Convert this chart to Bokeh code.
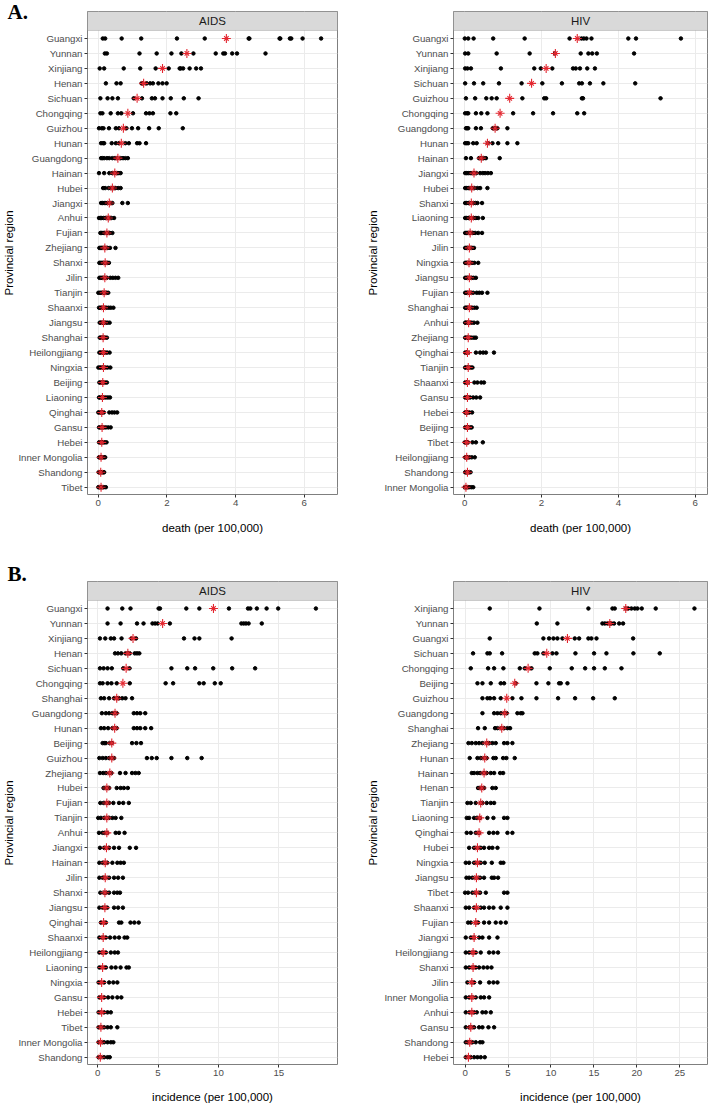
from bokeh.plotting import figure
from bokeh.models import ColumnDataSource, FixedTicker, BoxAnnotation, Label, Range1d, Title
from bokeh.layouts import column, row
from bokeh.embed import file_html
from bokeh.resources import INLINE

# ---------------- DATA ----------------
# Panel A, AIDS deaths (per 100,000)
aids_death_regions = ["Guangxi", "Yunnan", "Xinjiang", "Henan", "Sichuan", "Chongqing", "Guizhou", "Hunan",
                      "Guangdong", "Hainan", "Hubei", "Jiangxi", "Anhui", "Fujian", "Zhejiang", "Shanxi", "Jilin",
                      "Tianjin", "Shaanxi", "Jiangsu", "Shanghai", "Heilongjiang", "Ningxia", "Beijing", "Liaoning",
                      "Qinghai", "Gansu", "Hebei", "Inner Mongolia", "Shandong", "Tibet"]
aids_death_values = [
    [0.13, 0.20, 0.68, 1.25, 2.29, 3.10, 4.38, 4.40, 5.28, 5.30, 5.58, 5.62, 5.95, 6.49],
    [0.19, 0.25, 1.20, 1.70, 2.13, 2.42, 2.77, 3.42, 3.64, 3.69, 3.90, 4.04, 4.87],
    [0.04, 0.17, 0.74, 1.22, 1.67, 2.05, 2.37, 2.40, 2.47, 2.66, 2.85, 2.99],
    [0.22, 0.53, 0.65, 1.26, 1.30, 1.41, 1.51, 1.59, 1.75, 1.87, 1.99],
    [0.06, 0.27, 0.41, 0.57, 1.03, 1.27, 1.56, 1.65, 1.87, 2.11, 2.49, 2.92],
    [0.06, 0.12, 0.36, 0.57, 0.67, 1.01, 1.39, 1.49, 1.59, 2.10, 2.27],
    [0.02, 0.10, 0.15, 0.31, 0.51, 0.60, 0.82, 0.98, 1.16, 1.48, 1.76, 2.46],
    [0.08, 0.14, 0.17, 0.39, 0.51, 0.60, 0.79, 0.89, 1.13, 1.20, 1.39],
    [0.08, 0.12, 0.17, 0.25, 0.32, 0.41, 0.48, 0.55, 0.65, 0.72, 0.79, 0.86],
    [0.02, 0.17, 0.32, 0.41, 0.48, 0.55, 0.60, 0.65],
    [0.14, 0.20, 0.30, 0.38, 0.45, 0.50, 0.58, 0.65],
    [0.08, 0.12, 0.17, 0.22, 0.27, 0.35, 0.41, 0.70, 0.86],
    [0.02, 0.06, 0.10, 0.15, 0.20, 0.26, 0.32, 0.38, 0.46],
    [0.06, 0.10, 0.14, 0.19, 0.24, 0.28, 0.33, 0.41],
    [0.03, 0.07, 0.10, 0.14, 0.18, 0.22, 0.27, 0.34, 0.50],
    [0.03, 0.06, 0.10, 0.14, 0.18, 0.22, 0.26, 0.31],
    [0.03, 0.07, 0.11, 0.15, 0.19, 0.25, 0.35, 0.42, 0.50, 0.58],
    [0.00, 0.04, 0.08, 0.12, 0.16, 0.20, 0.24, 0.29],
    [0.02, 0.06, 0.10, 0.14, 0.18, 0.24, 0.30, 0.36, 0.44],
    [0.04, 0.07, 0.10, 0.14, 0.18, 0.22, 0.27, 0.33],
    [0.04, 0.07, 0.10, 0.13, 0.16, 0.20, 0.25],
    [0.03, 0.06, 0.09, 0.13, 0.17, 0.21, 0.26, 0.33],
    [0.00, 0.04, 0.08, 0.12, 0.16, 0.21, 0.27, 0.35],
    [0.03, 0.06, 0.09, 0.12, 0.16, 0.20, 0.25],
    [0.02, 0.05, 0.08, 0.12, 0.16, 0.22, 0.28, 0.34],
    [0.00, 0.03, 0.06, 0.09, 0.12, 0.16, 0.32, 0.40, 0.47, 0.55],
    [0.02, 0.05, 0.08, 0.12, 0.16, 0.22, 0.29, 0.36],
    [0.02, 0.05, 0.08, 0.11, 0.15, 0.19, 0.24],
    [0.02, 0.04, 0.07, 0.10, 0.13, 0.17, 0.20],
    [0.01, 0.04, 0.06, 0.09, 0.12, 0.15, 0.17],
    [0.00, 0.03, 0.06, 0.09, 0.12, 0.16, 0.22],
]
aids_death_means = [3.73, 2.58, 1.87, 1.32, 1.13, 0.86, 0.73, 0.67, 0.57, 0.48, 0.41, 0.32, 0.29, 0.25, 0.19,
                    0.20, 0.19, 0.17, 0.15, 0.15, 0.14, 0.15, 0.15, 0.13, 0.12, 0.10, 0.11, 0.10, 0.08, 0.07, 0.08]

# Panel A, HIV deaths (per 100,000)
hiv_death_regions = ["Guangxi", "Yunnan", "Xinjiang", "Sichuan", "Guizhou", "Chongqing", "Guangdong", "Hunan",
                     "Hainan", "Jiangxi", "Hubei", "Shanxi", "Liaoning", "Henan", "Jilin", "Ningxia", "Jiangsu",
                     "Fujian", "Shanghai", "Anhui", "Zhejiang", "Qinghai", "Tianjin", "Shaanxi", "Gansu", "Hebei",
                     "Beijing", "Tibet", "Heilongjiang", "Shandong", "Inner Mongolia"]
hiv_death_values = [
    [0.00, 0.09, 0.23, 0.74, 1.56, 2.73, 3.04, 3.10, 3.17, 3.30, 4.26, 4.46, 5.63],
    [0.01, 0.09, 0.83, 1.69, 2.35, 3.02, 3.22, 3.32, 3.44, 4.41],
    [0.01, 0.07, 0.16, 0.94, 1.81, 1.98, 2.28, 2.82, 2.89, 3.00, 3.19, 3.39],
    [0.01, 0.24, 0.48, 0.89, 1.48, 2.02, 2.53, 2.98, 3.05, 3.26, 3.61, 4.44],
    [0.03, 0.27, 0.56, 0.70, 0.83, 1.50, 2.07, 2.12, 3.05, 3.08, 5.10],
    [0.01, 0.06, 0.09, 0.29, 0.43, 0.59, 1.26, 1.78, 2.30, 2.93, 3.11],
    [0.03, 0.06, 0.09, 0.29, 0.42, 0.73, 0.76, 0.82, 0.85, 1.11],
    [0.01, 0.05, 0.09, 0.22, 0.31, 0.60, 0.72, 0.87, 1.11, 1.37],
    [0.03, 0.16, 0.37, 0.42, 0.46, 0.49, 0.55, 0.91],
    [0.01, 0.05, 0.09, 0.14, 0.19, 0.24, 0.30, 0.40, 0.47, 0.53, 0.60, 0.68],
    [0.01, 0.05, 0.09, 0.14, 0.19, 0.25, 0.33, 0.40, 0.59],
    [0.01, 0.05, 0.09, 0.13, 0.17, 0.22, 0.28, 0.33, 0.45],
    [0.01, 0.05, 0.09, 0.13, 0.18, 0.23, 0.29, 0.35, 0.47],
    [0.01, 0.04, 0.08, 0.12, 0.16, 0.21, 0.27, 0.35, 0.45],
    [0.01, 0.04, 0.08, 0.11, 0.15, 0.19, 0.24],
    [0.01, 0.04, 0.07, 0.10, 0.14, 0.19, 0.25, 0.35],
    [0.01, 0.04, 0.07, 0.10, 0.14, 0.18, 0.23, 0.29],
    [0.01, 0.04, 0.07, 0.11, 0.15, 0.22, 0.31, 0.38, 0.45, 0.59],
    [0.01, 0.04, 0.07, 0.10, 0.14, 0.19, 0.25, 0.31],
    [0.01, 0.03, 0.06, 0.09, 0.13, 0.18, 0.24, 0.33],
    [0.01, 0.03, 0.06, 0.09, 0.13, 0.18, 0.24, 0.29],
    [0.01, 0.03, 0.05, 0.08, 0.29, 0.40, 0.48, 0.55, 0.76],
    [0.01, 0.03, 0.06, 0.09, 0.12, 0.16, 0.20],
    [0.01, 0.03, 0.05, 0.08, 0.25, 0.33, 0.43, 0.50],
    [0.01, 0.03, 0.05, 0.09, 0.14, 0.22, 0.30, 0.40],
    [0.01, 0.03, 0.05, 0.08, 0.12, 0.19],
    [0.01, 0.03, 0.05, 0.08, 0.11, 0.15, 0.18],
    [0.00, 0.02, 0.05, 0.08, 0.20, 0.29, 0.47],
    [0.01, 0.03, 0.05, 0.08, 0.12, 0.18, 0.26],
    [0.01, 0.03, 0.05, 0.08, 0.11, 0.15],
    [0.00, 0.02, 0.04, 0.07, 0.11, 0.17, 0.22],
]
hiv_death_means = [2.93, 2.36, 2.12, 1.74, 1.17, 0.92, 0.79, 0.59, 0.43, 0.24, 0.18, 0.17, 0.17, 0.14, 0.12,
                   0.11, 0.12, 0.12, 0.12, 0.10, 0.09, 0.07, 0.09, 0.07, 0.07, 0.05, 0.07, 0.05, 0.05, 0.07, 0.03]

# Panel B, AIDS incidence (per 100,000)
aids_inc_regions = ["Guangxi", "Yunnan", "Xinjiang", "Henan", "Sichuan", "Chongqing", "Shanghai", "Guangdong",
                    "Hunan", "Beijing", "Guizhou", "Zhejiang", "Hubei", "Fujian", "Tianjin", "Anhui", "Jiangxi",
                    "Hainan", "Jilin", "Shanxi", "Jiangsu", "Qinghai", "Shaanxi", "Heilongjiang", "Liaoning",
                    "Ningxia", "Gansu", "Hebei", "Tibet", "Inner Mongolia", "Shandong"]
aids_inc_values = [
    [0.82, 2.04, 2.72, 5.05, 5.16, 7.34, 8.42, 10.87, 12.45, 12.64, 13.18, 13.99, 14.95, 18.07],
    [0.82, 1.90, 3.26, 3.80, 4.54, 4.76, 4.97, 5.98, 11.90, 12.09, 12.28, 12.50, 13.59],
    [0.19, 0.63, 1.09, 1.36, 1.98, 2.80, 3.18, 7.15, 8.02, 8.42, 11.09],
    [1.44, 1.68, 1.96, 2.31, 2.50, 2.66, 3.07, 3.26, 3.45],
    [0.19, 0.49, 0.82, 1.17, 2.12, 2.64, 6.11, 7.42, 8.07, 9.57, 11.14, 13.04],
    [0.19, 0.41, 0.82, 1.14, 1.58, 2.66, 5.63, 6.25, 8.42, 8.78, 9.70, 10.19],
    [0.27, 0.54, 0.95, 1.36, 1.60, 1.77, 2.04, 2.31, 2.85],
    [0.35, 0.68, 0.95, 1.22, 1.40, 1.58, 2.99, 3.26, 3.53, 3.94],
    [0.27, 0.54, 0.87, 1.22, 1.40, 1.58, 2.99, 3.26, 3.53, 3.94, 4.43],
    [0.41, 0.55, 0.68, 1.00, 1.17, 2.85, 3.21, 3.59],
    [0.14, 0.41, 0.68, 0.95, 1.20, 1.36, 4.08, 4.48, 4.89, 6.11, 7.42, 8.61],
    [0.19, 0.46, 0.68, 1.00, 1.14, 1.85, 2.31, 2.85, 3.13, 3.40],
    [0.49, 0.68, 0.80, 0.95, 1.58, 1.90, 2.17, 2.50],
    [0.22, 0.49, 0.75, 0.95, 1.30, 1.77, 2.12, 2.58],
    [0.05, 0.27, 0.54, 0.75, 0.95, 1.22, 1.49, 1.96],
    [0.11, 0.41, 0.60, 0.80, 1.49, 1.77, 2.23],
    [0.19, 0.54, 0.70, 0.95, 1.36, 1.77, 2.66, 3.18],
    [0.14, 0.41, 0.60, 0.80, 1.22, 1.63, 1.90, 2.17],
    [0.14, 0.41, 0.60, 0.95, 1.36, 1.70, 2.09],
    [0.22, 0.54, 0.70, 0.95, 1.36, 1.63, 1.85],
    [0.14, 0.41, 0.60, 0.80, 1.36, 1.70, 2.09],
    [0.27, 0.50, 0.68, 1.77, 1.96, 2.72, 3.04, 3.40],
    [0.14, 0.45, 0.68, 1.03, 1.41, 1.77, 2.23, 2.45],
    [0.14, 0.40, 0.68, 1.09, 1.41, 1.68],
    [0.14, 0.40, 0.68, 1.14, 1.49, 1.90, 2.39, 2.58],
    [0.08, 0.30, 0.54, 0.95, 1.30, 1.63],
    [0.14, 0.30, 0.54, 0.87, 1.22, 1.63, 1.96],
    [0.08, 0.30, 0.54, 0.82, 1.09],
    [0.08, 0.27, 0.54, 0.82, 1.09, 1.63],
    [0.08, 0.25, 0.54, 0.82, 1.09, 1.30],
    [0.08, 0.25, 0.54, 0.82, 1.00],
]
aids_inc_means = [9.59, 5.38, 2.93, 2.50, 2.36, 2.09, 1.58, 1.44, 1.41, 1.17, 1.17, 1.01, 0.76, 0.76, 0.76, 0.76,
                  0.73, 0.63, 0.63, 0.60, 0.60, 0.49, 0.46, 0.46, 0.41, 0.33, 0.33, 0.33, 0.27, 0.24, 0.22]

# Panel B, HIV incidence (per 100,000)
hiv_inc_regions = ["Xinjiang", "Yunnan", "Guangxi", "Sichuan", "Chongqing", "Beijing", "Guizhou", "Guangdong",
                   "Shanghai", "Zhejiang", "Hunan", "Hainan", "Henan", "Tianjin", "Liaoning", "Qinghai", "Hubei",
                   "Ningxia", "Jiangsu", "Tibet", "Shaanxi", "Fujian", "Jiangxi", "Heilongjiang", "Shanxi", "Jilin",
                   "Inner Mongolia", "Anhui", "Gansu", "Shandong", "Hebei"]
hiv_inc_values = [
    [2.87, 8.66, 14.36, 17.16, 17.43, 18.70, 19.00, 19.37, 19.76, 20.07, 20.57, 22.20, 26.71],
    [8.35, 10.75, 15.99, 16.27, 16.58, 16.85, 17.04, 17.35, 17.94, 18.40],
    [2.87, 9.12, 9.78, 10.29, 10.75, 11.34, 12.77, 13.28, 14.36, 14.71, 15.30, 19.57],
    [0.93, 2.60, 2.87, 4.31, 8.11, 8.42, 9.12, 10.17, 10.64, 12.85, 15.02, 16.46, 19.60, 22.67],
    [0.66, 2.68, 3.38, 4.46, 6.37, 6.95, 7.73, 9.86, 12.42, 13.98, 15.02, 16.27, 18.21],
    [1.44, 2.02, 2.99, 4.15, 4.54, 5.90, 8.31, 9.70, 10.95, 11.14, 11.92],
    [2.02, 2.60, 2.91, 3.38, 4.15, 5.51, 6.56, 8.31, 10.83, 12.81, 14.91, 17.43],
    [2.02, 3.38, 3.77, 4.15, 4.60, 4.85, 6.09, 6.48, 6.68],
    [1.51, 2.29, 3.49, 3.77, 4.20, 4.54, 4.93, 5.24],
    [0.39, 0.78, 1.24, 1.63, 2.02, 2.52, 2.80, 3.18, 3.57, 4.54, 4.93, 5.51],
    [0.54, 1.44, 1.82, 2.21, 2.52, 3.30, 3.57, 4.43, 4.81, 5.78],
    [0.78, 1.05, 1.44, 1.75, 2.21, 2.52, 2.99, 3.38, 4.08, 4.43],
    [1.51, 1.82, 1.94, 2.21, 3.18, 3.57],
    [0.27, 0.66, 1.24, 1.82, 2.02, 2.52, 2.99, 3.38],
    [0.19, 0.47, 1.05, 1.36, 1.71, 2.60, 3.30, 4.54, 4.93],
    [0.19, 0.66, 1.24, 1.63, 2.80, 3.30, 3.77, 4.93, 5.51],
    [0.47, 1.05, 1.44, 1.82, 2.21, 2.80, 3.18, 3.77],
    [0.08, 0.47, 1.05, 1.44, 1.82, 2.29, 3.11, 4.15, 4.46],
    [0.16, 0.47, 0.85, 1.32, 1.75, 2.21, 3.11, 3.38, 3.84],
    [0.00, 0.35, 0.85, 1.28, 1.75, 2.41, 4.54, 4.93],
    [0.08, 0.47, 1.05, 1.32, 1.82, 2.21, 2.80, 3.30, 4.15, 4.93],
    [0.35, 0.66, 1.24, 1.51, 2.21, 2.80, 3.57, 4.15, 4.74],
    [0.08, 0.66, 1.05, 1.63, 2.02, 2.80, 3.77],
    [0.08, 0.47, 0.93, 1.24, 1.82, 2.80, 3.30, 3.84],
    [0.08, 0.47, 0.93, 1.24, 1.63, 2.14, 2.60, 3.07],
    [0.27, 0.78, 1.05, 1.75, 2.80, 3.30, 3.77],
    [0.08, 0.47, 0.78, 1.24, 1.82, 2.21, 2.80],
    [0.08, 0.50, 0.78, 1.05, 1.36, 2.02, 2.41, 2.99],
    [0.08, 0.50, 0.66, 1.05, 1.63, 2.02, 2.72, 3.38],
    [0.08, 0.35, 0.54, 0.85, 1.24, 1.75, 2.02],
    [0.08, 0.39, 0.66, 1.05, 1.44, 1.82, 2.29],
]
hiv_inc_means = [18.71, 16.85, 11.92, 9.51, 7.34, 5.78, 4.85, 4.62, 4.27, 2.52, 2.29, 2.21, 1.94, 1.82, 1.71, 1.63,
                 1.44, 1.44, 1.32, 1.32, 1.32, 1.24, 1.05, 0.93, 0.93, 0.78, 0.78, 0.78, 0.66, 0.54, 0.39]

death_ticks = [0, 2, 4, 6]
aids_inc_ticks = [0, 5, 10, 15]
hiv_inc_ticks = [0, 5, 10, 15, 20, 25]

# ---------------- STYLE ----------------
FONT = "Liberation Sans"
GRID = "#ebebeb"
BORDER = "#7f7f7f"
RED = "#e3262f"
Y_RANGE = (-0.487, 31.805)
STRIP_BOTTOM = 30.535


def make_panel(names, values, means, ticks, xr, strip, xlabel, width, height,
               mb_left, mb_right, mb_top, mb_bottom, ylab_standoff, xlab_standoff,
               tag=None, tag_standoff=0):
    n = len(names)
    pos = [n - 1 - i for i in range(n)]
    xs, ys = [], []
    for i, vals in enumerate(values):
        xs.extend(vals)
        ys.extend([pos[i]] * len(vals))
    src = ColumnDataSource(dict(x=xs, y=ys))
    msrc = ColumnDataSource(dict(x=means, y=pos))

    p = figure(width=width, height=height, output_backend="svg", toolbar_location=None, title=None,
               x_range=Range1d(*xr), y_range=Range1d(*Y_RANGE),
               min_border_left=mb_left, min_border_right=mb_right,
               min_border_top=mb_top, min_border_bottom=mb_bottom)
    p.background_fill_color = "white"
    p.border_fill_color = "white"
    p.outline_line_color = BORDER
    p.outline_line_width = 1

    xt = FixedTicker(ticks=ticks)
    yt = FixedTicker(ticks=pos)
    p.xaxis.ticker = xt
    p.yaxis.ticker = yt
    p.xgrid.ticker = xt
    p.ygrid.ticker = yt
    p.yaxis.major_label_overrides = {pos[i]: names[i] for i in range(n)}
    p.xgrid.grid_line_color = GRID
    p.ygrid.grid_line_color = GRID

    for ax in (p.xaxis[0], p.yaxis[0]):
        ax.axis_line_color = None
        ax.major_tick_line_color = "#333333"
        ax.major_tick_out = 3
        ax.major_tick_in = 0
        ax.minor_tick_line_color = None
        ax.major_label_text_font = FONT
        ax.major_label_text_font_size = "9.7px"
        ax.major_label_text_color = "#4d4d4d"
        ax.major_label_standoff = 2
        ax.axis_label_text_font = FONT
        ax.axis_label_text_font_size = "11.5px"
        ax.axis_label_text_font_style = "normal"
        ax.axis_label_text_color = "black"
    p.xaxis.axis_label = xlabel
    p.xaxis.axis_label_standoff = xlab_standoff
    p.yaxis.axis_label = "Provincial region"
    p.yaxis.axis_label_standoff = ylab_standoff

    p.scatter("x", "y", source=src, size=3.5, color="black")
    p.scatter("x", "y", source=msrc, marker="cross", size=9, line_color=RED, line_width=1.1)
    p.scatter("x", "y", source=msrc, marker="x", size=6.4, line_color=RED, line_width=1.1)

    p.add_layout(BoxAnnotation(bottom=STRIP_BOTTOM, fill_color="#d9d9d9", fill_alpha=1.0,
                               line_color=BORDER, line_width=1))
    p.add_layout(Label(x=(xr[0] + xr[1]) / 2, y=(STRIP_BOTTOM + Y_RANGE[1]) / 2, text=strip,
                       text_align="center", text_baseline="middle", text_font=FONT,
                       text_font_size="11.5px", text_color="#1a1a1a"))
    if tag:
        p.add_layout(Title(text=tag, align="left", offset=-(mb_left - 3), standoff=tag_standoff,
                           text_font="Liberation Serif", text_font_style="bold",
                           text_font_size="21px", text_color="black"), "above")
    return p


a1 = make_panel(aids_death_regions, aids_death_values, aids_death_means, death_ticks, (-0.315, 6.967),
                "AIDS", "death (per 100,000)", 362, 563, 83, 25, 11, 69, 0, 13, tag="A.", tag_standoff=-24)
a2 = make_panel(hiv_death_regions, hiv_death_values, hiv_death_means, death_ticks, (-0.294, 6.323),
                "HIV", "death (per 100,000)", 346, 563, 91, 1, 11, 69, 2, 13)
b1 = make_panel(aids_inc_regions, aids_inc_values, aids_inc_means, aids_inc_ticks, (-0.84, 19.86),
                "AIDS", "incidence (per 100,000)", 362, 544, 83, 25, 18, 43, 0, 12, tag="B.", tag_standoff=-9)
b2 = make_panel(hiv_inc_regions, hiv_inc_values, hiv_inc_means, hiv_inc_ticks, (-1.35, 28.23),
                "HIV", "incidence (per 100,000)", 346, 544, 91, 1, 18, 43, 2, 12)

layout = column(row(a1, a2), row(b1, b2))
open("out.html", "w").write(file_html(layout, INLINE))
